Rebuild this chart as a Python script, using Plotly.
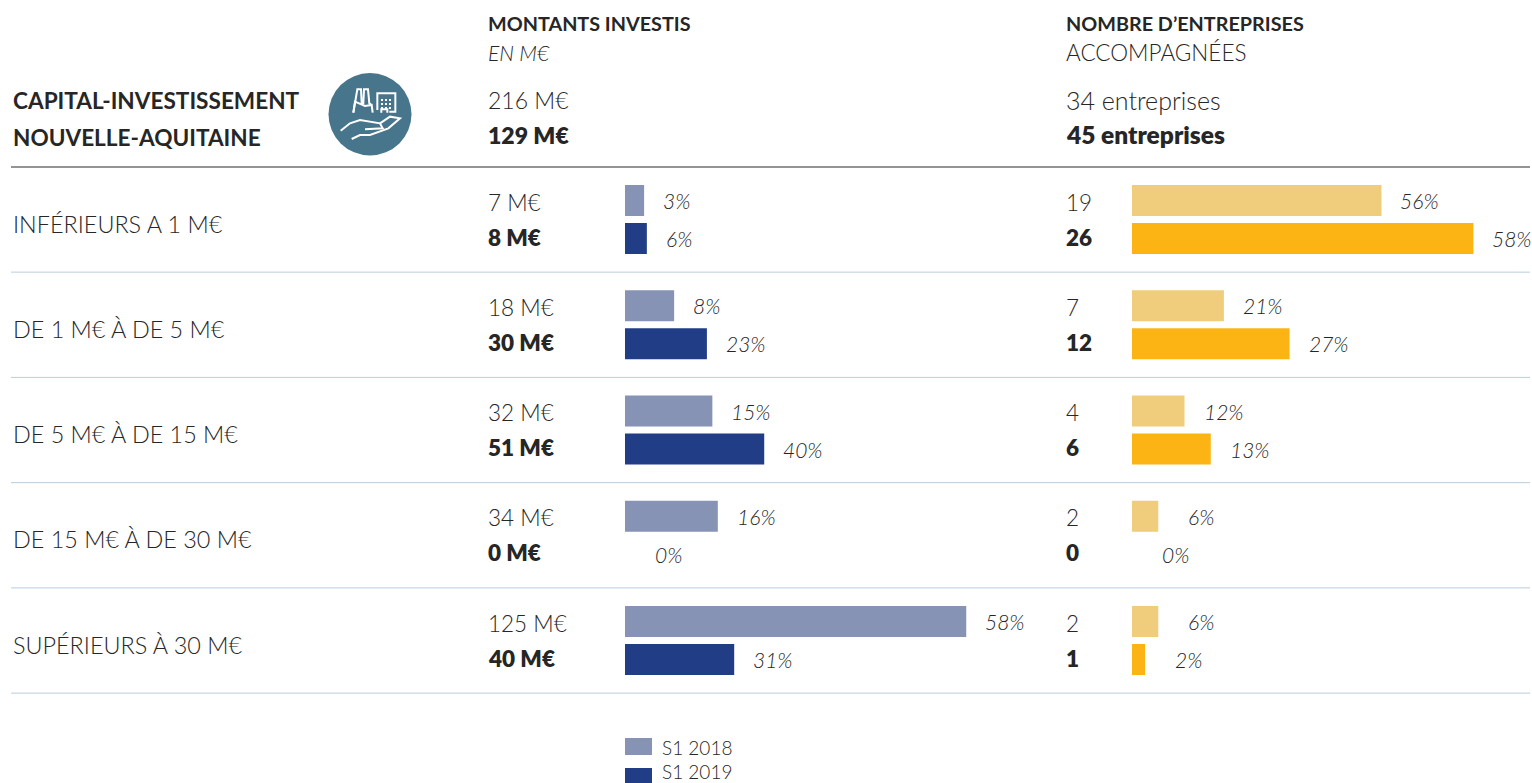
import plotly.graph_objects as go

W, H = 1532, 783
categories = ["INFÉRIEURS A 1 M€", "DE 1 M€ À DE 5 M€", "DE 5 M€ À DE 15 M€", "DE 15 M€ À DE 30 M€", "SUPÉRIEURS À 30 M€"]
amount_2018 = [7, 18, 32, 34, 125]
amount_2019 = [8, 30, 51, 0, 40]
amount_pct_2018 = [3, 8, 15, 16, 58]
amount_pct_2019 = [6, 23, 40, 0, 31]
firms_2018 = [19, 7, 4, 2, 2]
firms_2019 = [26, 12, 6, 0, 1]
firms_pct_2018 = [56, 21, 12, 6, 6]
firms_pct_2019 = [58, 27, 13, 0, 2]
series_names = ["S1 2018", "S1 2019"]

FONT = "Lato"
TXT = "#262626"
C_A18, C_A19, C_F18, C_F19 = "#8693b5", "#203d85", "#f0cd7c", "#fbb414"
ROW_PX, ROW0_PX = 105.25, 219.5
rows = list(range(len(categories)))
PX = lambda x: x / W
PY = lambda y: 1 - y / H

fig = go.Figure()
for vals, name, col, xa in [
    (amount_2018, series_names[0], C_A18, "x"),
    (amount_2019, series_names[1], C_A19, "x"),
    (firms_2018, series_names[0], C_F18, "x2"),
    (firms_2019, series_names[1], C_F19, "x2"),
]:
    fig.add_trace(go.Bar(y=rows, x=vals, name=name, orientation="h", xaxis=xa, yaxis="y",
                         marker=dict(color=col, line=dict(width=0)), showlegend=False,
                         hovertemplate="%{x}<extra>" + name + "</extra>"))

ann = []
def text(s, x, y, size=21, weight=300, style="normal", xref="paper", yref="paper", xshift=0, yshift=0):
    ann.append(dict(text=s, x=x, y=y, xref=xref, yref=yref, xanchor="left", yanchor="middle",
                    xshift=xshift - 2, yshift=yshift, showarrow=False, align="left",
                    font=dict(family=FONT, size=size, color=TXT, weight=weight, style=style)))

# headers
text("MONTANTS INVESTIS", PX(488), PY(23), 19.8, 700)
text("EN M€", PX(488), PY(53), 21, 300, "italic")
text("NOMBRE D’ENTREPRISES", PX(1066), PY(23), 19.8, 700)
text("ACCOMPAGNÉES", PX(1066), PY(52), 22.5, 300)
text("CAPITAL-INVESTISSEMENT", PX(13), PY(100), 22.6, 700)
text("NOUVELLE-AQUITAINE", PX(13), PY(137), 22.6, 700)
text(f"{sum(amount_2018)} M€", PX(488), PY(100.5), 23, 300)
text(f"{sum(amount_2019)} M€", PX(488), PY(134.5), 23, 800)
text(f"{sum(firms_2018)} entreprises", PX(1066), PY(100.5), 25, 300)
text(f"{sum(firms_2019)} entreprises", PX(1066), PY(134.5), 24.5, 800)

VAL_OFF = 17.5 / ROW_PX
PCT_OFF = 19 / ROW_PX
PCT_SIZE = 21
for i in rows:
    text(categories[i], PX(13), i, 23.4, 300, yref="y", yshift=-4)
    text(f"{amount_2018[i]} M€", PX(488), i - VAL_OFF, 22.5, 300, yref="y")
    text(f"{amount_2019[i]} M€", PX(488), i + VAL_OFF, 22.5, 800, yref="y")
    text(f"{firms_2018[i]}", PX(1066), i - VAL_OFF, 22.5, 300, yref="y")
    text(f"{firms_2019[i]}", PX(1066), i + VAL_OFF, 22.5, 800, yref="y")
    text(f"{amount_pct_2018[i]}%", amount_2018[i], i - PCT_OFF, PCT_SIZE, 300, "italic", "x", "y", 19)
    text(f"{amount_pct_2019[i]}%", amount_2019[i], i + PCT_OFF, PCT_SIZE, 300, "italic", "x", "y", 30 if amount_2019[i] == 0 else 19)
    text(f"{firms_pct_2018[i]}%", firms_2018[i], i - PCT_OFF, PCT_SIZE, 300, "italic", "x2", "y", 30 if firms_2018[i] <= 2 else 19)
    text(f"{firms_pct_2019[i]}%", firms_2019[i], i + PCT_OFF, PCT_SIZE, 300, "italic", "x2", "y", 30 if firms_2019[i] <= 1 else 19)

# legend
shapes = []
for name, col, top, mid in [(series_names[0], C_A18, 738, 747), (series_names[1], C_A19, 768, 771)]:
    shapes.append(dict(type="rect", xref="paper", yref="paper", x0=PX(625), x1=PX(652),
                       y0=PY(top), y1=PY(top + 17), fillcolor=col, line=dict(width=0)))
    text(name, PX(662), PY(mid), 19, 300)

# separators
shapes.append(dict(type="line", xref="paper", yref="y", x0=PX(11), x1=PX(1530), y0=-0.5, y1=-0.5,
                   line=dict(color="#707070", width=1.5)))
for i in rows:
    shapes.append(dict(type="line", xref="paper", yref="y", x0=PX(11), x1=PX(1530), y0=i + 0.5, y1=i + 0.5,
                       line=dict(color="#b9cddc", width=1)))

# icon
def path(pts):
    return "M" + " L".join(f"{PX(300 + x / 3):.5f},{PY(60 + y / 3):.5f}" for x, y in pts)
shapes.append(dict(type="circle", xref="paper", yref="paper", x0=PX(328.5), x1=PX(411.5), y0=PY(155.5), y1=PY(73),
                   fillcolor="#47758b", line=dict(width=0)))
icon_lines = [
    [(160, 158), (172, 88), (183, 88), (185, 130), (190, 130), (192, 88), (204, 88), (208, 130), (215, 135)],
    [(160, 158), (165, 125), (195, 138), (215, 135), (218, 158)],
    [(232, 150), (232, 100), (286, 100), (286, 155), (268, 155)],
    [(244, 158), (244, 148), (262, 148), (262, 158)],
    [(122, 212), (150, 190), (180, 180), (240, 190), (248, 205), (195, 208)],
    [(240, 190), (270, 170), (300, 175), (265, 205), (210, 225), (180, 225), (155, 237)],
]
for pts in icon_lines:
    shapes.append(dict(type="path", xref="paper", yref="paper", path=path(pts),
                       line=dict(color="white", width=2)))
for y in (97, 101, 105):
    shapes.append(dict(type="line", xref="paper", yref="paper", x0=PX(381), x1=PX(392), y0=PY(y + 3), y1=PY(y + 3),
                       line=dict(color="white", width=2, dash="2px 2px")))

fig.update_layout(
    width=W, height=H, autosize=False, margin=dict(l=0, r=0, t=0, b=0, pad=0),
    paper_bgcolor="white", plot_bgcolor="rgba(0,0,0,0)", barmode="group",
    bargap=1 - 76 / ROW_PX, bargroupgap=7 / 38, showlegend=False,
    xaxis=dict(domain=[PX(625), 1], range=[0, (W - 625) / 2.73], visible=False, fixedrange=True),
    xaxis2=dict(domain=[PX(1132), 1], range=[0, (W - 1132) / 13.13], visible=False, anchor="y", fixedrange=True),
    yaxis=dict(domain=[0, 1], range=[(H - ROW0_PX) / ROW_PX, -ROW0_PX / ROW_PX], visible=False, fixedrange=True),
    annotations=ann, shapes=shapes,
    font=dict(family=FONT, color=TXT),
)
fig.write_html("out.html", config=dict(displayModeBar=False),
               post_script="document.body.style.margin='0';document.body.style.overflow='hidden';")
